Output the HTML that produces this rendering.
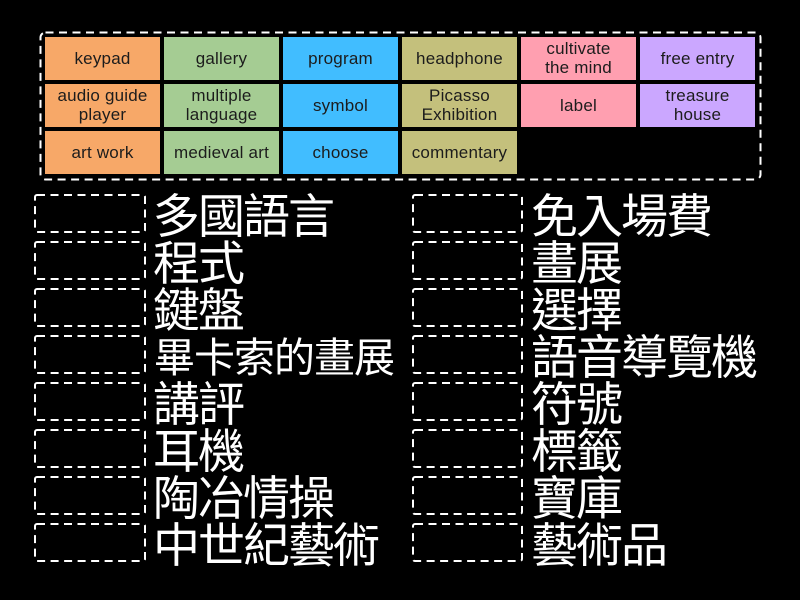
<!DOCTYPE html>
<html><head><meta charset="utf-8"><style>
html,body{margin:0;padding:0;background:#000;width:800px;height:600px;overflow:hidden}
body{position:relative;font-family:"Liberation Sans","Noto Sans CJK TC",sans-serif}
svg{position:absolute;left:0;top:0}
.t{position:absolute;width:115px;height:43px;display:flex;align-items:center;justify-content:center;text-align:center;font-size:17px;line-height:19px;color:#1c1c1c;letter-spacing:.2px;white-space:nowrap}
.u{padding-bottom:2px;height:41px}
.o{background:#f7a868}.g{background:#a5cc93}.b{background:#41bdff}.y{background:#c4c07c}.p{background:#ff9fb0}.v{background:#cba7ff}
.c{position:absolute;color:#fff;font-family:"WenQuanYi Zen Hei","Noto Sans CJK TC",sans-serif;font-size:47px;letter-spacing:-2px;line-height:47px;height:47px;white-space:nowrap}
</style></head><body>
<svg width="800" height="600" fill="none" stroke="#fff" stroke-width="2" stroke-dasharray="8 5.5">
<rect x="40.5" y="32.5" width="720" height="147" rx="5"/>
<rect x="35" y="195" width="110" height="37" rx="2"/><rect x="35" y="242" width="110" height="37" rx="2"/><rect x="35" y="289" width="110" height="37" rx="2"/><rect x="35" y="336" width="110" height="37" rx="2"/><rect x="35" y="383" width="110" height="37" rx="2"/><rect x="35" y="430" width="110" height="37" rx="2"/><rect x="35" y="477" width="110" height="37" rx="2"/><rect x="35" y="524" width="110" height="37" rx="2"/>
<rect x="413" y="195" width="109" height="37" rx="2"/><rect x="413" y="242" width="109" height="37" rx="2"/><rect x="413" y="289" width="109" height="37" rx="2"/><rect x="413" y="336" width="109" height="37" rx="2"/><rect x="413" y="383" width="109" height="37" rx="2"/><rect x="413" y="430" width="109" height="37" rx="2"/><rect x="413" y="477" width="109" height="37" rx="2"/><rect x="413" y="524" width="109" height="37" rx="2"/>
</svg>
<div class="t o" style="left:45px;top:37px">keypad</div>
<div class="t g" style="left:164px;top:37px">gallery</div>
<div class="t b" style="left:283px;top:37px">program</div>
<div class="t y" style="left:402px;top:37px">headphone</div>
<div class="t p u" style="left:521px;top:37px">cultivate<br>the mind</div>
<div class="t v" style="left:640px;top:37px">free entry</div>
<div class="t o u" style="left:45px;top:84px">audio guide<br>player</div>
<div class="t g u" style="left:164px;top:84px">multiple<br>language</div>
<div class="t b" style="left:283px;top:84px">symbol</div>
<div class="t y u" style="left:402px;top:84px">Picasso<br>Exhibition</div>
<div class="t p" style="left:521px;top:84px">label</div>
<div class="t v u" style="left:640px;top:84px">treasure<br>house</div>
<div class="t o" style="left:45px;top:131px">art work</div>
<div class="t g" style="left:164px;top:131px">medieval art</div>
<div class="t b" style="left:283px;top:131px">choose</div>
<div class="t y" style="left:402px;top:131px">commentary</div>
<div class="c" style="left:153px;top:189px">多國語言</div>
<div class="c" style="left:153px;top:236px">程式</div>
<div class="c" style="left:153px;top:283px">鍵盤</div>
<div class="c" style="left:154px;top:331px;font-size:41px;letter-spacing:-1px">畢卡索的畫展</div>
<div class="c" style="left:153px;top:377px">講評</div>
<div class="c" style="left:153px;top:424px">耳機</div>
<div class="c" style="left:153px;top:471px">陶冶情操</div>
<div class="c" style="left:153px;top:518px">中世紀藝術</div>
<div class="c" style="left:531px;top:189px">免入場費</div>
<div class="c" style="left:531px;top:236px">畫展</div>
<div class="c" style="left:531px;top:283px">選擇</div>
<div class="c" style="left:531px;top:330px">語音導覽機</div>
<div class="c" style="left:531px;top:377px">符號</div>
<div class="c" style="left:531px;top:424px">標籤</div>
<div class="c" style="left:531px;top:471px">寶庫</div>
<div class="c" style="left:531px;top:518px">藝術品</div>
</body></html>
